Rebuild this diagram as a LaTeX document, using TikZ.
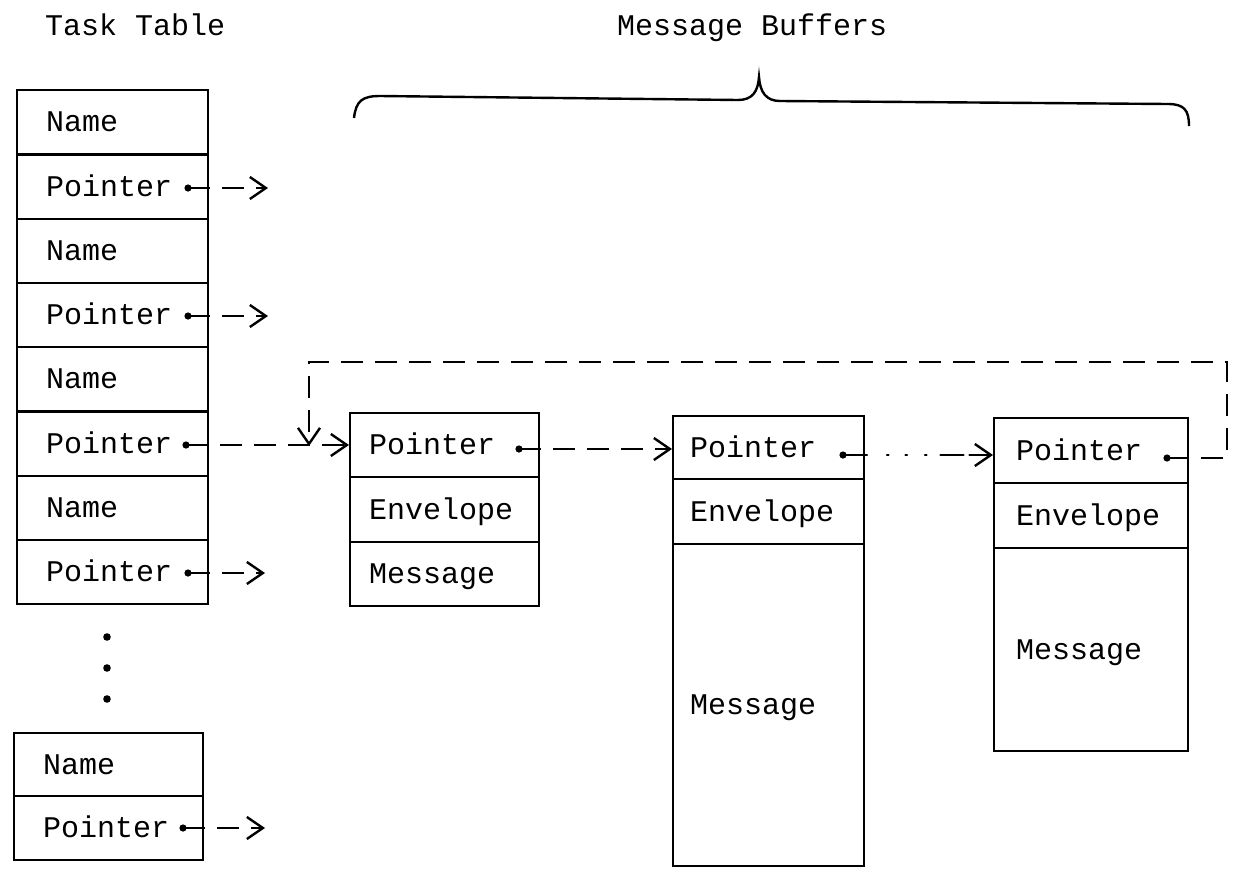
\documentclass[tikz,border=0pt]{standalone}
\usepackage{fontspec}
\newfontfamily\tw{Liberation Mono}
\usetikzlibrary{arrows.meta}
\tikzset{
  every node/.style={font=\tw\fontsize{30}{36}\selectfont},
  cell/.style 2 args={draw, line width=2.4pt, anchor=north west, inner xsep=#1,
    text width=#2, align=left, inner ysep=0pt, text height=24pt, text depth=5pt},
  lbl/.style={anchor=base west, inner sep=0pt},
  tip/.style={-{Straight Barb[length=16pt,width=22pt,line width=2.4pt]}},
  ptr/.style={line width=2.4pt, dash pattern=on 22pt off 12pt, tip},
  dotptr/.style={line width=2.4pt, line cap=round,
    dash pattern=on 24pt off 20pt on 1.5pt off 17pt on 1.5pt off 18pt on 1.5pt off 14pt on 23pt off 6pt on 60pt,
    tip},
}
\begin{document}
\begin{tikzpicture}[x=1pt,y=-1pt]
\useasboundingbox (0,0) rectangle (1235,884);
% titles
\node[lbl] (tt) at (45,35) {Task Table};
\node[lbl] (mb) at (617,35) {Message Buffers};
% brace
\draw[line width=2.4pt] (354,118) .. controls (356,101) and (362,96) .. (380,96) -- (738,100)
  .. controls (752,100) and (758,92) .. (759,77)
  .. controls (760,92) and (766,101) .. (780,101) -- (1168,104)
  .. controls (1184,104) and (1189,110) .. (1189,126);
% task table
\node[cell={29pt}{133pt}, minimum width=191pt, minimum height=64.25pt] (n1) at (16,89) {Name};
\node[cell={29pt}{133pt}, minimum width=191pt, minimum height=64.25pt] (p1) at (16,153.25) {Pointer};
\node[cell={29pt}{133pt}, minimum width=191pt, minimum height=64.25pt] (n2) at (16,217.5) {Name};
\node[cell={29pt}{133pt}, minimum width=191pt, minimum height=64.25pt] (p2) at (16,281.75) {Pointer};
\node[cell={29pt}{133pt}, minimum width=191pt, minimum height=64.25pt] (n3) at (16,346) {Name};
\node[cell={29pt}{133pt}, minimum width=191pt, minimum height=64.25pt] (p3) at (16,410.25) {Pointer};
\node[cell={29pt}{133pt}, minimum width=191pt, minimum height=64.25pt] (n4) at (16,474.5) {Name};
\node[cell={29pt}{133pt}, minimum width=191pt, minimum height=64.25pt] (p4) at (16,538.75) {Pointer};
% ellipsis dots
\fill (107,637) circle (3.8pt);
\fill (107,668) circle (3.8pt);
\fill (107,699) circle (3.8pt);
% last table entry
\node[cell={29pt}{131pt}, minimum width=189pt, minimum height=63pt] (n5) at (13,732) {Name};
\node[cell={29pt}{131pt}, minimum width=189pt, minimum height=64pt] (p5) at (13,795) {Pointer};
% buffer 1
\node[cell={19pt}{151pt}, minimum width=189pt, minimum height=64pt] (b1p) at (349,412) {Pointer};
\node[cell={19pt}{151pt}, minimum width=189pt, minimum height=65pt] (b1e) at (349,476) {Envelope};
\node[cell={19pt}{151pt}, minimum width=189pt, minimum height=64pt] (b1m) at (349,541) {Message};
% buffer 2
\node[cell={17pt}{157pt}, minimum width=191pt, minimum height=63pt] (b2p) at (672,415) {Pointer};
\node[cell={17pt}{157pt}, minimum width=191pt, minimum height=65pt] (b2e) at (672,478) {Envelope};
\node[cell={17pt}{157pt}, minimum width=191pt, minimum height=322pt] (b2m) at (672,543) {Message};
% buffer 3
\node[cell={22pt}{150pt}, minimum width=194pt, minimum height=65pt] (b3p) at (993,417) {Pointer};
\node[cell={22pt}{150pt}, minimum width=194pt, minimum height=65pt] (b3e) at (993,482) {Envelope};
\node[cell={22pt}{150pt}, minimum width=194pt, minimum height=203pt] (b3m) at (993,547) {Message};
% pointer dots
\coordinate (d1) at (188,188);
\coordinate (d2) at (188,316);
\coordinate (d3) at (186,445);
\coordinate (d4) at (188,573);
\coordinate (d5) at (183,828);
\coordinate (e1) at (519,449);
\coordinate (e2) at (843,455);
\coordinate (e3) at (1167,458);
\foreach \d in {d1,d2,d3,d4,d5,e1,e2,e3} \fill (\d) circle (3.6pt);
% free arrow ends
\coordinate (a1) at (268,188);
\coordinate (a2) at (268,316);
\coordinate (a4) at (265,573);
\coordinate (a5) at (265,828);
\draw[ptr] (d1) -- (a1);
\draw[ptr] (d2) -- (a2);
\draw[ptr] (d4) -- (a4);
\draw[ptr] (d5) -- (a5);
\draw[ptr] (d3) -- (d3 -| b1p.west);
\draw[ptr] (e1) -- (e1 -| b2p.west);
\draw[dotptr] (e2) -- (e2 -| b3p.west);
% loop back
\coordinate (loopTR) at (1227,362);
\coordinate (loopEnd) at (309,446);
\draw[ptr] (e3) -| (loopTR) -| (loopEnd);
\end{tikzpicture}
\end{document}
